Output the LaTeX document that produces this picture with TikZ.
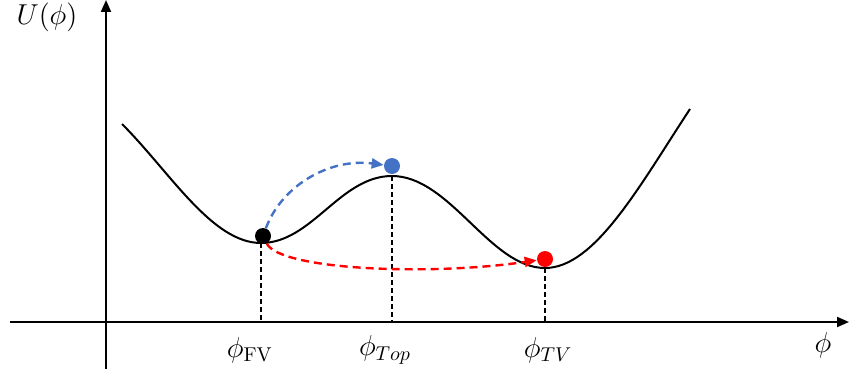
\documentclass[tikz,border=0pt]{standalone}
\usepackage{amsmath}
\usetikzlibrary{arrows.meta}
\usepackage{xcolor}
\definecolor{dotblue}{RGB}{68,114,196}

\begin{document}
\begin{tikzpicture}[x=0.5pt, y=-0.5pt,
    axis/.style={line width=1pt, -{Triangle[length=6pt, width=5pt]}},
    guide/.style={line width=0.7pt, dash pattern=on 2.5pt off 1.5pt},
    hop/.style={line width=1.2pt, dash pattern=on 4pt off 2.5pt, -{Triangle[length=6pt, width=5pt]}},
    dot/.style={circle, inner sep=0pt, minimum size=8pt}]
\useasboundingbox (0,0) rectangle (849,374);
% axes
\coordinate (xl) at (10,322);
\coordinate (xr) at (849,322);
\coordinate (yb) at (106,369);
\coordinate (yt) at (106,0);
\draw[axis] (xl) -- (xr);
\draw[axis] (yb) -- (yt);
\node (lblU) at (47,17) {\Large\(U(\phi)\)};
\node (lblphi) at (823,345) {\Large\(\phi\)};
% potential
\coordinate (fv) at (261,243);
\coordinate (top) at (392,176);
\coordinate (tv) at (545,268);
\draw[line width=1pt] (122,124) .. controls (170,172) and (212,243) .. (fv)
    .. controls (312,243) and (340,176) .. (top)
    .. controls (450,176) and (490,268) .. (tv)
    .. controls (595,268) and (640,185) .. (690,109);
% guides
\draw[guide] (fv) -- (fv |- xl);
\draw[guide] (top) -- (top |- xl);
\draw[guide] (tv) -- (tv |- xl);
\node (lblfv) at (250,350) {\Large\(\phi_{\mathrm{FV}}\)};
\node (lbltop) at (385,350) {\Large\(\phi_{Top}\)};
\node (lbltv) at (548,350) {\Large\(\phi_{TV}\)};
% fields
\node[dot, fill=black] (dfv) at (263,236) {};
\node[dot, fill=dotblue] (dtop) at (392,166) {};
\node[dot, fill=red] (dtv) at (545,259) {};
\draw[hop, dotblue] (dfv) .. controls (282,185) and (330,158) .. (dtop);
\draw[hop, red] (dfv) .. controls (280,270) and (430,276) .. (dtv);
\end{tikzpicture}
\end{document}
